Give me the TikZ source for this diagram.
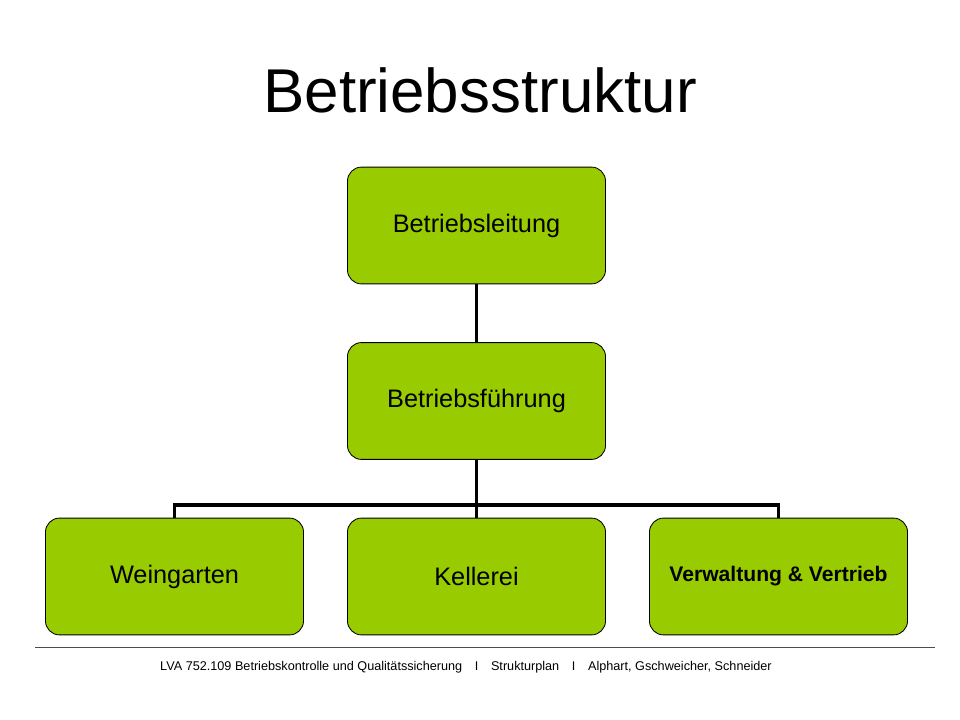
\documentclass[tikz,border=0pt]{standalone}
\usepackage{fontspec}
\setmainfont{Liberation Sans}
\usepackage[dvipsnames]{xcolor}
\definecolor{boxgreen}{RGB}{153,204,0}

\begin{document}
\begin{tikzpicture}[x=0.025cm,y=-0.025cm,line width=2.2pt,
    box node/.style={draw=black,line width=0.6pt,fill=boxgreen,rounded corners=10pt,
      minimum width=6.45cm,minimum height=2.92cm,inner sep=0pt,font=\fontsize{18}{20}\selectfont}]

            \useasboundingbox (0,0) rectangle (960,720);
            \node (title) at (480,90) {\fontsize{44}{48}\selectfont Betriebsstruktur};

            \node[box node] (1) at (476.5,225.5) {Betriebsleitung};
            \node[box node] (2) at (476.5,401) {Betriebsführung};
            \node[box node] (3) at (174.5,576.5) {Weingarten};
            \node[box node] (4) at (476.5,576.5) {Kellerei};
            \node[box node,font=\fontsize{15}{17}\selectfont\bfseries] (5) at (778.5,576.5) {Verwaltung \& Vertrieb};

            \coordinate (h) at (476.5,505);
            \draw (1) -- (2);
            \draw (2) -- (h);
            \draw (3.north) |- (h) -| (5.north);
            \draw (h) -- (4.north);

            \draw[line width=0.5pt,black!70] (35,647) -- (935,647);
            \node (footer) at (466,667) {\fontsize{9}{11}\selectfont LVA 752.109 Betriebskontrolle und Qualitätssicherung\quad I\quad Strukturplan\quad I\quad Alphart, Gschweicher, Schneider};
        \end{tikzpicture}
\end{document}
